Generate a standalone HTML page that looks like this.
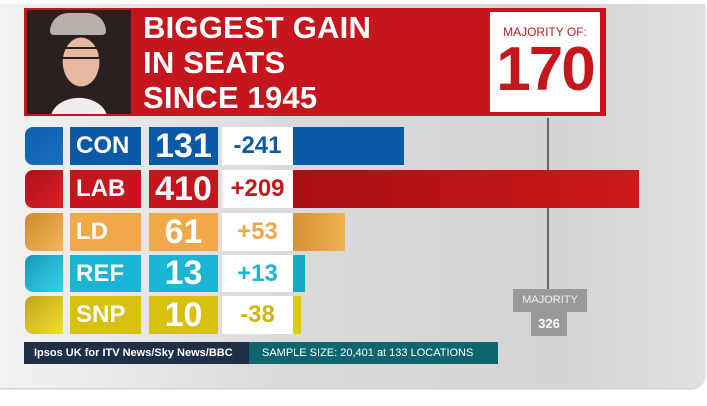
<!DOCTYPE html>
<html><head><style>
body{margin:0;width:707px;height:406px;background:#fff;position:relative;overflow:hidden;font-family:"Liberation Sans",sans-serif}
.a{position:absolute}
.panel{left:0;top:4px;width:705px;height:384px;background:linear-gradient(90deg,#f2f2f2 0%,#dadada 40%,#d4d4d4 80%,#e0e0e0 100%);border-bottom-right-radius:14px;box-shadow:0 1px 2px #bbb}
.t{color:#fff;font-weight:bold;font-size:31px;line-height:35px;letter-spacing:0.2px}
.lbl{color:#fff;font-weight:bold;font-size:24px;display:flex;align-items:center;padding-left:6px;box-sizing:border-box}
.seat{color:#fff;font-weight:bold;font-size:34px;display:flex;align-items:center;justify-content:center}
.chg{background:#fff;font-weight:bold;font-size:24px;display:flex;align-items:center;justify-content:center}
</style></head><body>
<div class="a panel"></div>
<div class="a" style="left:24px;top:8px;width:582px;height:108px;background:#c4161c"></div>
<div class="a" style="left:27px;top:10px;width:104px;height:104px;background:radial-gradient(ellipse 30px 40px at 52% 50%,#e8b8a0 60%,transparent 62%),radial-gradient(ellipse 40px 30px at 50% 105%,#eee 70%,transparent 72%),#2a2020"></div>
<div class="a" style="left:55px;top:47px;width:48px;height:12px;border:2px solid #222;border-radius:6px;box-sizing:border-box"></div>
<div class="a" style="left:50px;top:13px;width:56px;height:22px;background:#b8b0aa;border-radius:20px 20px 4px 4px"></div>
<div class="a t" style="left:143px;top:10px">BIGGEST GAIN<br>IN SEATS<br>SINCE 1945</div>
<div class="a" style="left:490px;top:12px;width:110px;height:100px;background:#fff"></div>
<div class="a" style="left:490px;top:25px;width:110px;text-align:center;color:#c4161c;font-size:12px">MAJORITY OF:</div>
<div class="a" style="left:490px;top:38px;width:110px;text-align:center;color:#c4161c;font-size:62px;line-height:64px;font-weight:bold;letter-spacing:-2px">170</div>

<div class="a" style="left:547px;top:118px;width:2px;height:172px;background:#666"></div>
<div class="a" style="left:513px;top:289px;width:74px;height:23px;background:#9a9a9a;color:#eee;font-size:11px;line-height:23px;text-align:center">MAJORITY</div>
<div class="a" style="left:531px;top:312px;width:36px;height:24px;background:#9a9a9a;color:#fff;font-size:13px;font-weight:bold;line-height:24px;text-align:center">326</div>

<div class="a" style="left:25px;top:127px;width:38px;height:38px;background:linear-gradient(135deg,#0b5fae,#1d6fc0);border-radius:8px 0 0 8px"></div>
<div class="a lbl" style="left:70px;top:127px;width:71px;height:38px;background:#0b5aa8">CON</div>
<div class="a seat" style="left:149px;top:127px;width:69px;height:38px;background:#0b5aa8">131</div>
<div class="a chg" style="left:222px;top:127px;width:71px;height:38px;color:#0b5aa8">-241</div>
<div class="a" style="left:293px;top:127px;width:111px;height:38px;background:#0b5aa8"></div>

<div class="a" style="left:25px;top:170px;width:38px;height:38px;background:linear-gradient(135deg,#b0101a,#d8202a);border-radius:8px 0 0 8px"></div>
<div class="a lbl" style="left:70px;top:170px;width:71px;height:38px;background:#c4161c">LAB</div>
<div class="a seat" style="left:149px;top:170px;width:69px;height:38px;background:#c4161c">410</div>
<div class="a chg" style="left:222px;top:170px;width:71px;height:38px;color:#c4161c">+209</div>
<div class="a" style="left:293px;top:170px;width:346px;height:38px;background:linear-gradient(90deg,#a80e14,#cc1a1a)"></div>

<div class="a" style="left:25px;top:213px;width:38px;height:38px;background:linear-gradient(135deg,#d08a30,#f4b458);border-radius:8px 0 0 8px"></div>
<div class="a lbl" style="left:70px;top:213px;width:71px;height:38px;background:#f0a848">LD</div>
<div class="a seat" style="left:149px;top:213px;width:69px;height:38px;background:#f0a848">61</div>
<div class="a chg" style="left:222px;top:213px;width:71px;height:38px;color:#f0a848">+53</div>
<div class="a" style="left:293px;top:213px;width:52px;height:38px;background:linear-gradient(90deg,#d89038,#f0b050)"></div>

<div class="a" style="left:25px;top:255px;width:38px;height:37px;background:linear-gradient(135deg,#109ab8,#3cd0ec);border-radius:8px 0 0 8px"></div>
<div class="a lbl" style="left:70px;top:255px;width:71px;height:37px;background:#1ab4d4">REF</div>
<div class="a seat" style="left:149px;top:255px;width:69px;height:37px;background:#1ab4d4">13</div>
<div class="a chg" style="left:222px;top:255px;width:71px;height:37px;color:#1ab4d4">+13</div>
<div class="a" style="left:293px;top:255px;width:12px;height:37px;background:#1aa8c8"></div>

<div class="a" style="left:25px;top:296px;width:38px;height:38px;background:linear-gradient(135deg,#c0a418,#f0e030);border-radius:8px 0 0 8px"></div>
<div class="a lbl" style="left:70px;top:296px;width:71px;height:38px;background:#d8c010">SNP</div>
<div class="a seat" style="left:149px;top:296px;width:69px;height:38px;background:#d8c010">10</div>
<div class="a chg" style="left:222px;top:296px;width:71px;height:38px;color:#d0b410">-38</div>
<div class="a" style="left:293px;top:296px;width:8px;height:38px;background:#e0c818"></div>

<div class="a" style="left:24px;top:342px;width:225px;height:22px;background:#1e2f48;color:#fff;font-size:11px;font-weight:bold;line-height:22px;padding-left:10px;box-sizing:border-box">Ipsos UK for ITV News/Sky News/BBC</div>
<div class="a" style="left:249px;top:342px;width:249px;height:22px;background:#0e6570;color:#fff;font-size:11px;line-height:22px;padding-left:13px;box-sizing:border-box">SAMPLE SIZE: 20,401 at 133 LOCATIONS</div>
</body></html>
